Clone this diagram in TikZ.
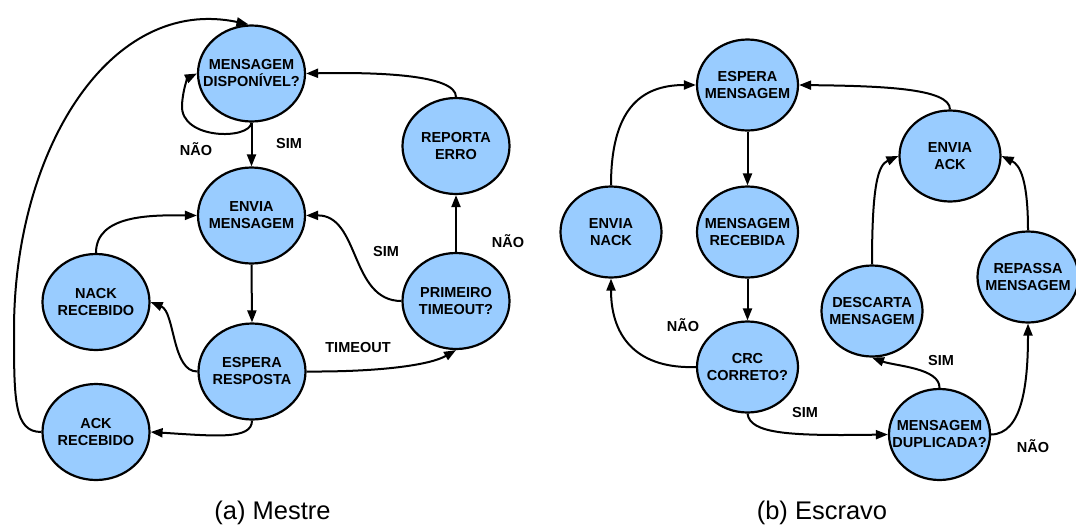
\documentclass[tikz,border=0pt]{standalone}
\usepackage{fontspec}
\setmainfont{Liberation Sans}
\usetikzlibrary{shapes.geometric,arrows.meta}
\definecolor{stateblue}{HTML}{99CCFF}
\begin{document}
\begin{tikzpicture}[x=1pt,y=-1pt,
  % the ellipse size is fixed by minimum width/height; the negative
  % horizontal inner sep keeps long labels from widening it
  state/.style={ellipse, draw=black, line width=2.2pt, fill=stateblue,
    inner xsep=-20pt, inner ysep=0pt, align=center,
    font=\bfseries\fontsize{14.5}{17}\selectfont},
  mstate/.style={state, minimum width=107pt, minimum height=96pt},
  sstate/.style={state, minimum width=101pt, minimum height=91pt},
  trans/.style={line width=2pt, -{Triangle[length=12pt,width=9pt]}},
  lbl/.style={font=\bfseries\fontsize{14.5}{17}\selectfont, inner sep=0pt},
  subcap/.style={font=\fontsize{25.5}{30}\selectfont, inner sep=0pt, anchor=base}]
\useasboundingbox (0,0) rectangle (1076,525);

% ---------------- Mestre ----------------
\node[mstate] (msg)    at (251.5,73.5) {MENSAGEM\\DISPONÍVEL?};
\node[mstate] (envia)  at (251.5,215.5) {ENVIA\\MENSAGEM};
\node[mstate] (nack)   at (96,302)     {NACK\\RECEBIDO};
\node[mstate] (espera) at (252,371.5)  {ESPERA\\RESPOSTA};
\node[mstate] (ack)    at (96,432)     {ACK\\RECEBIDO};
\node[mstate] (prim)   at (456,301)    {PRIMEIRO\\TIMEOUT?};
\node[mstate] (rep)    at (456,146)    {REPORTA\\ERRO};

\draw[trans] (msg.south) -- (envia.north);
\draw[trans] (msg.south) .. controls (250,140) and (180,140) .. (182,105)
             .. controls (183,88) and (188,78) .. (msg.west);
\draw[trans] (ack.west) .. controls (14,432) and (14,400) .. (14,330)
             .. controls (14,150) and (110,-5) .. ([xshift=-3pt]msg.north);
\draw[trans] (envia.south) -- (espera.north);
\draw[trans] (espera.south) .. controls (252,440) and (215,436) .. (ack.east);
\draw[trans] (espera.west) .. controls (172,372) and (175,312) .. (nack.east);
\draw[trans] (nack.north) .. controls (96,215) and (150,215) .. (envia.west);
\draw[trans] (espera.east) .. controls (380,372) and (430,365) .. (prim.south);
\draw[trans] (prim.west) .. controls (350,301) and (360,215) .. (envia.east);
\draw[trans] (prim.north) -- (rep.south);
\draw[trans] (rep.north) .. controls (456,75) and (380,72) .. (msg.east);

\node[lbl] (l1) at (196,149) {NÃO};
\node[lbl] (l2) at (289,144) {SIM};
\node[lbl] (l3) at (386,252) {SIM};
\node[lbl] (l4) at (508,241) {NÃO};
\node[lbl] (l5) at (358,348) {TIMEOUT};
\node[subcap] (capa) at (272.5,519) {(a) Mestre};

% ---------------- Escravo ----------------
\node[sstate] (espm)    at (747.5,85)   {ESPERA\\MENSAGEM};
\node[sstate] (envnack) at (611,232)    {ENVIA\\NACK};
\node[sstate] (recv)    at (747.5,232)  {MENSAGEM\\RECEBIDA};
\node[sstate] (crc)     at (747.5,367)  {CRC\\CORRETO?};
\node[sstate] (desc)    at (872,311)    {DESCARTA\\MENSAGEM};
\node[sstate] (envack)  at (950,156)    {ENVIA\\ACK};
\node[sstate] (repassa) at (1028,277)   {REPASSA\\MENSAGEM};
\node[sstate] (dup)     at (939.5,434.5) {MENSAGEM\\DUPLICADA?};

\draw[trans] (espm.south) -- (recv.north);
\draw[trans] (recv.south) -- (crc.north);
\draw[trans] (crc.west) .. controls (640,369) and (611,340) .. (envnack.south);
\draw[trans] (envnack.north) .. controls (611,110) and (640,85) .. (espm.west);
\draw[trans] (crc.south) .. controls (750,434) and (790,436) .. (dup.west);
\draw[trans] (dup.north) .. controls (940,368) and (895,366) .. (desc.south);
\draw[trans] (desc.north) .. controls (872,185) and (878,165) .. (envack.west);
\draw[trans] (dup.east) .. controls (1022,434) and (1028,385) .. (repassa.south);
\draw[trans] (repassa.north) .. controls (1028,180) and (1020,165) .. (envack.east);
\draw[trans] (envack.north) .. controls (950,88) and (880,86) .. (espm.east);

\node[lbl] (l6) at (683,325)  {NÃO};
\node[lbl] (l7) at (805,413)  {SIM};
\node[lbl] (l8) at (941,361)  {SIM};
\node[lbl] (l9) at (1033,446) {NÃO};
\node[subcap] (capb) at (822,519) {(b) Escravo};
\end{tikzpicture}
\end{document}
